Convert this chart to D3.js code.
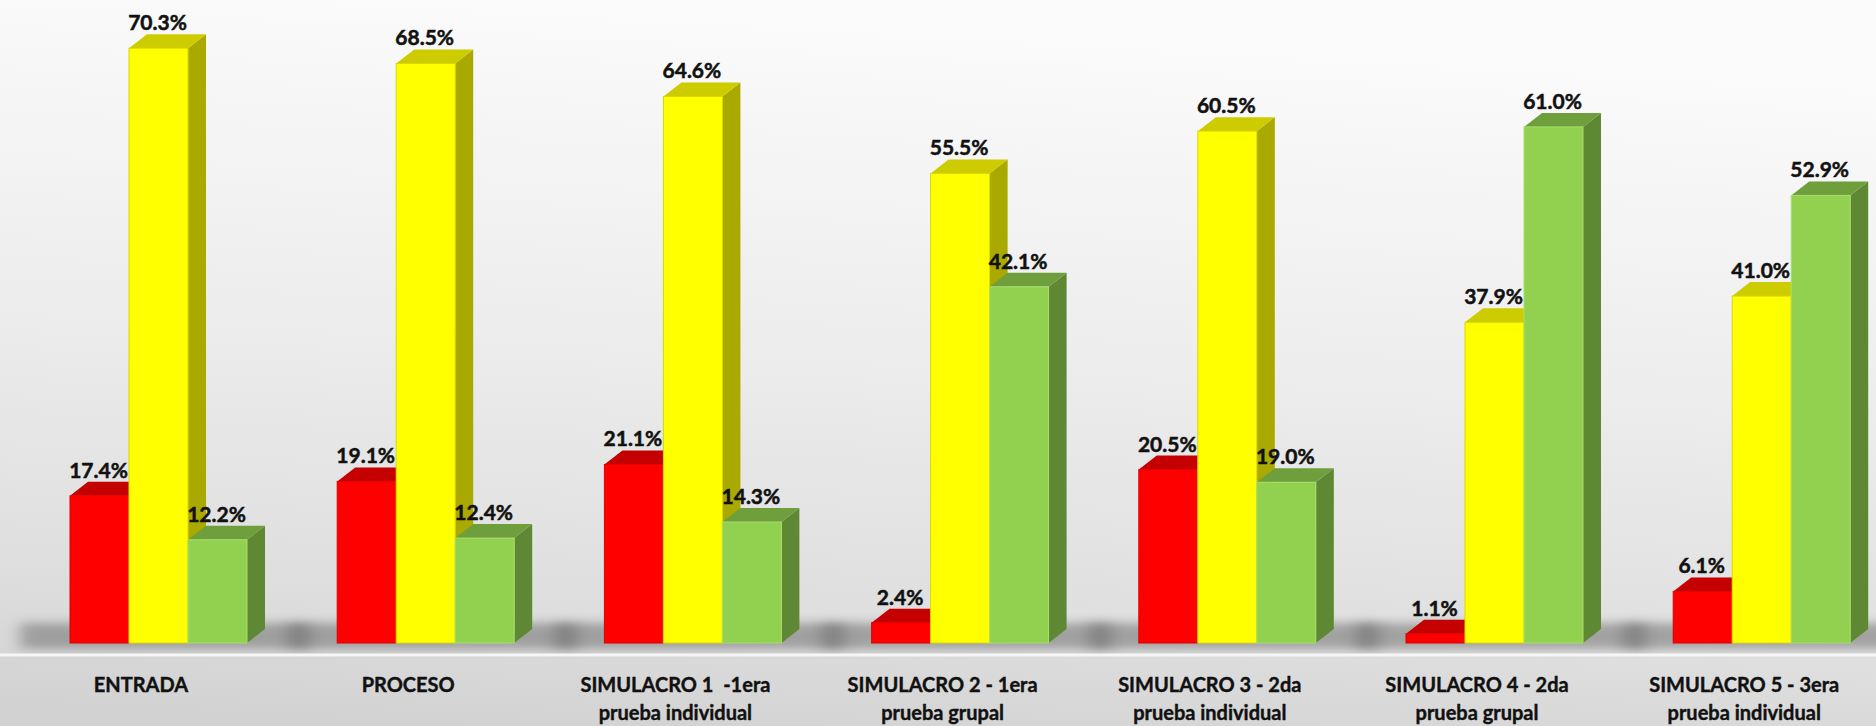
<!DOCTYPE html>
<html>
<head>
<meta charset="utf-8">
<script src="https://cdn.jsdelivr.net/npm/d3@7/dist/d3.min.js"></script>
<style>
  html, body { margin: 0; padding: 0; background: #e6e6e6; }
  svg { display: block; }
</style>
</head>
<body>
<svg id="chart" width="1876" height="726"></svg>
<script>
// ---- Data ----
const categories = ["ENTRADA", "PROCESO", "SIMULACRO 1", "SIMULACRO 2", "SIMULACRO 3", "SIMULACRO 4", "SIMULACRO 5"];
const categoryLines = [
  ["ENTRADA"],
  ["PROCESO"],
  ["SIMULACRO 1  -1era", "prueba individual"],
  ["SIMULACRO 2 - 1era", "prueba grupal"],
  ["SIMULACRO 3 - 2da", "prueba individual"],
  ["SIMULACRO 4 - 2da", "prueba grupal"],
  ["SIMULACRO 5 - 3era", "prueba individual"]
];
const seriesNames = ["Rojo", "Amarillo", "Verde"];
const redValues    = [17.4, 19.1, 21.1, 2.4, 20.5, 1.1, 6.1];
const yellowValues = [70.3, 68.5, 64.6, 55.5, 60.5, 37.9, 41.0];
const greenValues  = [12.2, 12.4, 14.3, 42.1, 19.0, 61.0, 52.9];
const seriesValues = [redValues, yellowValues, greenValues];

// ---- Styles ----
const faceColors = [
  { front: "#ff0000", top: "#c40000", side: "#a00000", stroke: "#e00000" },
  { front: "#ffff00", top: "#cccc00", side: "#a9a900", stroke: "#d8d800" },
  { front: "#92d050", top: "#6f9e3c", side: "#5f8834", stroke: "#a8e06a" }
];

const W = 1876, H = 726;
const svg = d3.select("#chart");

// ---- Background ----
const defs = svg.append("defs");
const bg = defs.append("linearGradient").attr("id", "bg")
  .attr("x1", "0.35").attr("y1", "0").attr("x2", "0.2").attr("y2", "1");
bg.append("stop").attr("offset", "0").attr("stop-color", "#fbfbfb");
bg.append("stop").attr("offset", "0.45").attr("stop-color", "#ededed");
bg.append("stop").attr("offset", "0.8").attr("stop-color", "#dfdfdf");
bg.append("stop").attr("offset", "1").attr("stop-color", "#d2d2d2");
svg.append("rect").attr("width", W).attr("height", H).attr("fill", "url(#bg)");

const blur = defs.append("filter").attr("id", "blur")
  .attr("x", "-30%").attr("y", "-200%").attr("width", "160%").attr("height", "500%");
blur.append("feGaussianBlur").attr("stdDeviation", "8 5");

// ---- Scales ----
const x0 = d3.scaleBand().domain(categories).range([7.4, 1877.8]).padding(0);
const groupOffset = 62.6, groupWidth = 177;
const x1 = d3.scaleBand().domain(seriesNames).range([0, groupWidth]).padding(0);
const baseY = 643;
const y = d3.scaleLinear().domain([0, 76]).range([baseY, 0]);
const dx = 18, dy = 14;

// ---- Floor shadows ----
svg.append("g").selectAll("rect").data(categories).join("rect")
  .attr("x", d => x0(d) + groupOffset - 50)
  .attr("y", baseY - 20)
  .attr("width", groupWidth + dx + 95)
  .attr("height", 26)
  .attr("fill", "#666")
  .attr("opacity", 0.5)
  .attr("filter", "url(#blur)");

// ---- Axis line ----
svg.append("line")
  .attr("x1", 0).attr("x2", W)
  .attr("y1", 655).attr("y2", 655)
  .attr("stroke", "#f6f6f6").attr("stroke-width", 3);

// ---- Bars ----
const groups = svg.append("g").selectAll("g").data(categories).join("g")
  .attr("transform", d => `translate(${x0(d) + groupOffset},0)`);

groups.each(function(cat, ci) {
  const g = d3.select(this);
  seriesNames.forEach((s, si) => {
    const v = seriesValues[si][ci];
    const xl = x1(s), xr = xl + x1.bandwidth();
    const yt = y(v), yb = y(0);
    const c = faceColors[si];
    g.append("path")
      .attr("d", `M${xr},${yb}L${xr},${yt}L${xr + dx},${yt - dy}L${xr + dx},${yb - dy}Z`)
      .attr("fill", c.side);
    g.append("path")
      .attr("d", `M${xl},${yt}L${xr},${yt}L${xr + dx},${yt - dy}L${xl + dx},${yt - dy}Z`)
      .attr("fill", c.top);
    g.append("rect")
      .attr("x", xl).attr("y", yt)
      .attr("width", x1.bandwidth()).attr("height", yb - yt)
      .attr("fill", c.front)
      .attr("stroke", c.stroke).attr("stroke-width", 1);
  });
  seriesNames.forEach((s, si) => {
    const v = seriesValues[si][ci];
    g.append("text")
      .attr("x", x1(s) + x1.bandwidth() / 2 - 1)
      .attr("y", y(v) - 18)
      .attr("text-anchor", "middle")
      .attr("font-family", "Lato, 'Open Sans', sans-serif")
      .attr("font-weight", "bold")
      .attr("font-size", 21)
      .attr("fill", "#111")
      .attr("stroke", "#111").attr("stroke-width", 0.5)
      .text(v.toFixed(1) + "%");
  });
});

// ---- Category labels ----
const lab = svg.append("g").selectAll("text").data(categories).join("text")
  .attr("text-anchor", "middle")
  .attr("font-family", "Lato, 'Open Sans', sans-serif")
  .attr("font-weight", "bold")
  .attr("font-size", 20)
  .attr("fill", "#111")
  .attr("stroke", "#111").attr("stroke-width", 0.4)
  .style("white-space", "pre");
lab.each(function(d, i) {
  const t = d3.select(this);
  const cx = x0(d) + x0.bandwidth() / 2;
  categoryLines[i].forEach((line, li) => {
    t.append("tspan").attr("x", cx).attr("y", 692 + li * 28).text(line);
  });
});
</script>
</body>
</html>
